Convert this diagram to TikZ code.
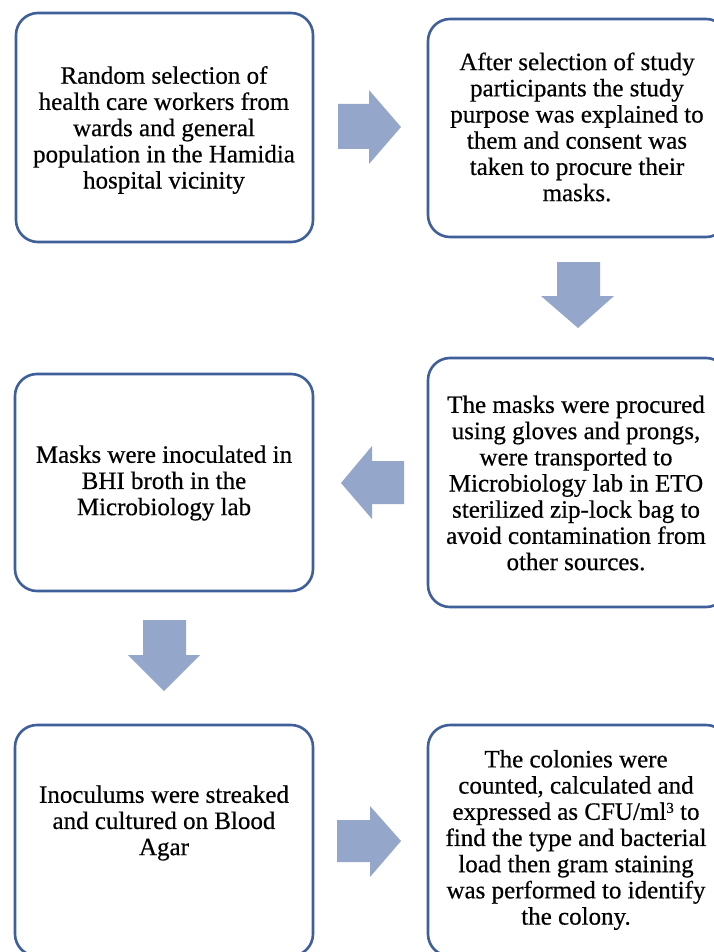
\documentclass[tikz,border=0pt]{standalone}
\usepackage{fontspec}
\setmainfont{Liberation Serif}
\newfontfamily\stepfont[FakeBold=0.5]{Liberation Serif}
\newcommand{\supthree}{\raisebox{0.28em}{\fontsize{15}{15}\selectfont 3}}
\definecolor{boxline}{HTML}{3F5F9B}
\definecolor{arrowfill}{HTML}{94A7CA}
\begin{document}
\begin{tikzpicture}[x=1pt,y=-1pt,
  stepbox/.style={draw=boxline, line width=2.6pt, rounded corners=22pt, fill=white, inner sep=0pt},
  steptext/.style={align=center, inner sep=0pt, font=\stepfont\fontsize{25}{26.2}\selectfont, text=black},
  blockarrow/.style={fill=arrowfill, draw=none}]
\useasboundingbox (0,0) rectangle (714,952);
\clip (0,0) rectangle (714,952);
\fill[white] (0,0) rectangle (714,952);
% boxes
\node[stepbox, minimum width=297pt, minimum height=229pt] (b1) at (164.5,127.5) {};
\node[stepbox, minimum width=300pt, minimum height=218pt] (b2) at (578,128) {};
\node[stepbox, minimum width=300pt, minimum height=249pt] (b3) at (578,482.5) {};
\node[stepbox, minimum width=298pt, minimum height=217pt] (b4) at (164,482.5) {};
\node[stepbox, minimum width=298pt, minimum height=231pt] (b5) at (164,840.5) {};
\node[stepbox, minimum width=300pt, minimum height=231pt] (b6) at (578,840.5) {};
% texts
\node[steptext] (t1) at (164,130) {Random selection of\\health care workers from\\wards and general\\population in the Hamidia\\hospital vicinity};
\node[steptext] (t2) at (577,127) {After selection of study\\participants the study\\purpose was explained to\\them and consent was\\taken to procure their\\masks.};
\node[steptext] (t3) at (576,483) {The masks were procured\\using gloves and prongs,\\were transported to\\Microbiology lab in ETO\\sterilized zip-lock bag to\\avoid contamination from\\other sources.};
\node[steptext] (t4) at (164,483) {Masks were inoculated in\\BHI broth in the\\Microbiology lab};
\node[steptext] (t5) at (164,823) {Inoculums were streaked\\and cultured on Blood\\Agar};
\node[steptext] (t6) at (576,840) {The colonies were\\counted, calculated and\\expressed as CFU/ml\supthree{} to\\find the type and bacterial\\load then gram staining\\was performed to identify\\the colony.};
% block arrows
\fill[blockarrow] (338,104) -- (369,104) -- (369,90) -- (401,127) -- (369,164) -- (369,149) -- (338,149) -- cycle;
\fill[blockarrow] (557,262) -- (600,262) -- (600,296) -- (614,296) -- (578,328) -- (541,296) -- (557,296) -- cycle;
\fill[blockarrow] (404,461) -- (372,461) -- (372,446) -- (341,483) -- (372,519) -- (372,504) -- (404,504) -- cycle;
\fill[blockarrow] (143,620) -- (186,620) -- (186,655) -- (200,655) -- (164,691) -- (128,655) -- (143,655) -- cycle;
\fill[blockarrow] (337,820) -- (370,820) -- (370,806) -- (401,841) -- (370,877) -- (370,862) -- (337,862) -- cycle;
\end{tikzpicture}
\end{document}
